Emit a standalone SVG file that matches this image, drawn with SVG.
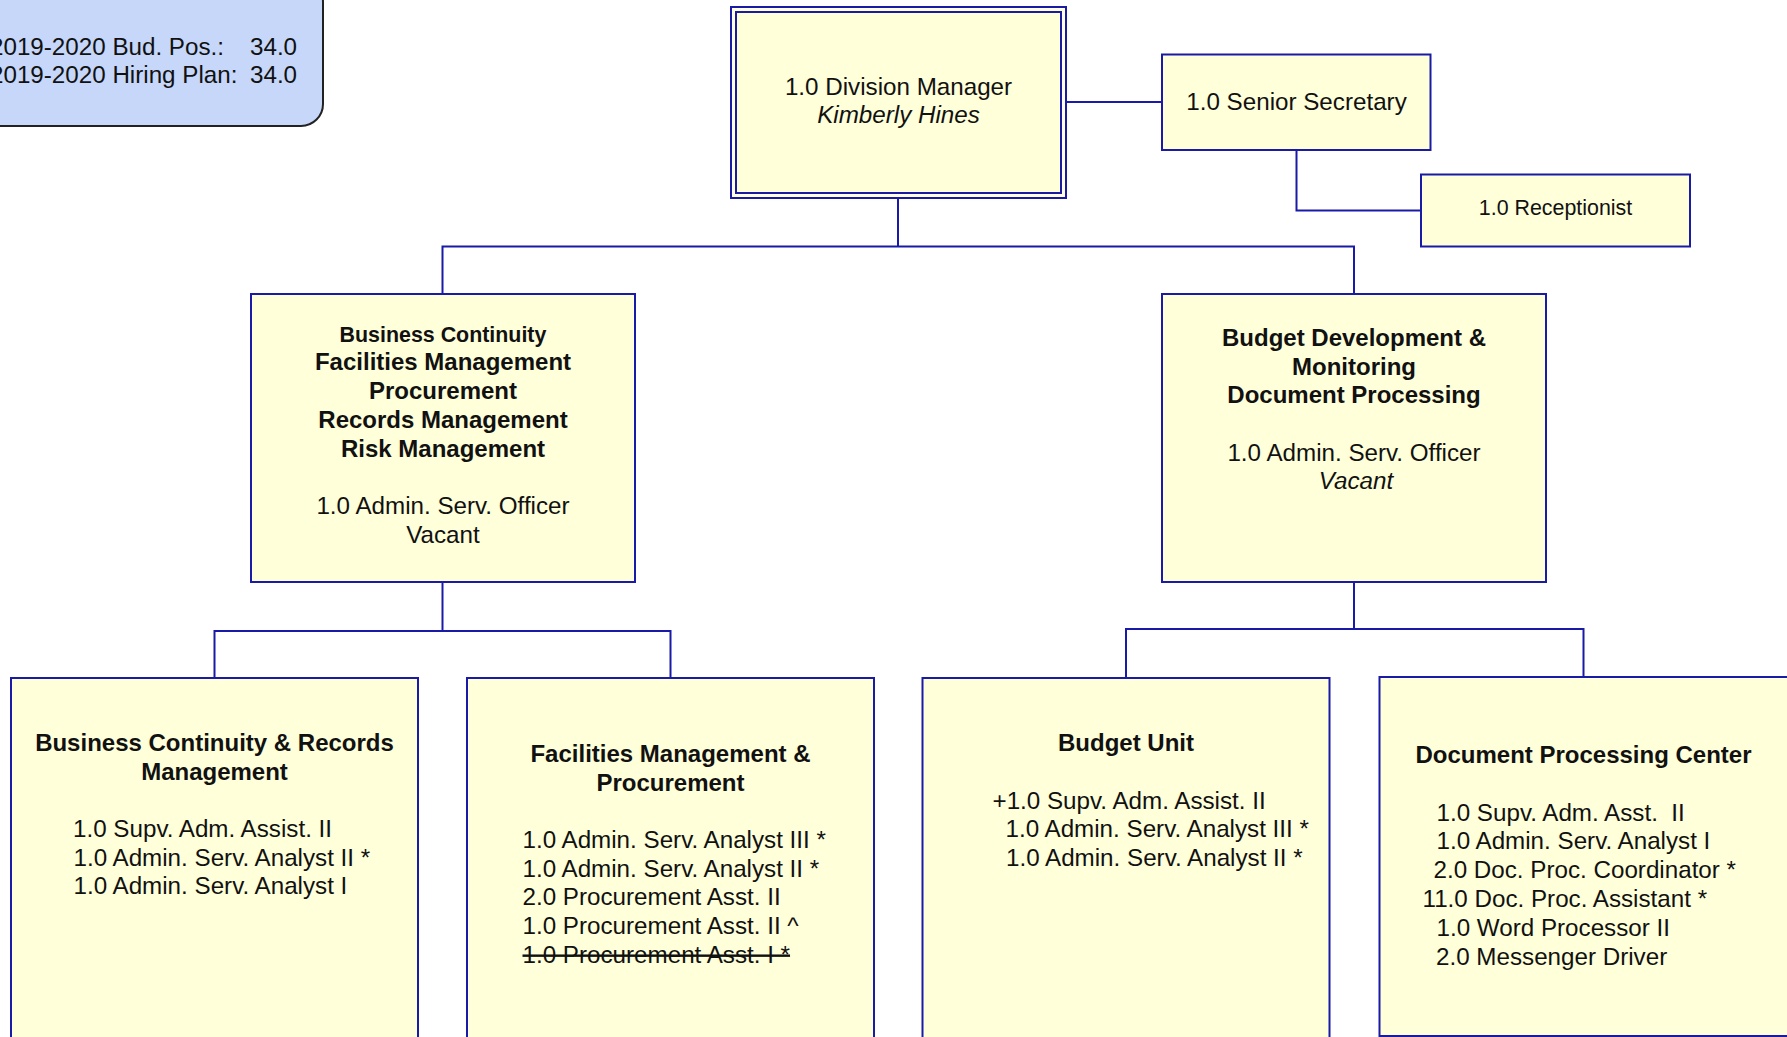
<svg xmlns="http://www.w3.org/2000/svg" width="1787" height="1037" viewBox="0 0 1787 1037">
<style>
  text { font-family: "Liberation Sans", Arial, sans-serif; font-size: 24.2px; fill: #111; }
  .c { text-anchor: middle; }
  .b { font-weight: bold; font-size: 24px; }
  .i { font-style: italic; }
  .sm { font-size: 21.4px; }
  .node { fill: #FFFFDA; stroke: #1A1AA8; stroke-width: 2; }
  .info { fill: #C6D7FA; stroke: #222; stroke-width: 2; }
  .conn { fill: none; stroke: #1A1AA8; stroke-width: 2; }
  .strike { text-decoration: line-through; }
</style>
<rect width="1787" height="1037" fill="#FFFFFF"/>

<g id="connectors">
  <path class="conn" d="M1066 102 H1162"/>
  <path class="conn" d="M1296.5 150 V210.5 H1421"/>
  <path class="conn" d="M898 198 V246.5"/>
  <path class="conn" d="M442.5 294 V246.5 H1354 V294"/>
  <path class="conn" d="M442.5 582 V631"/>
  <path class="conn" d="M214.5 678 V631 H670.5 V678"/>
  <path class="conn" d="M1354 582 V629"/>
  <path class="conn" d="M1126 678 V629 H1583.5 V677"/>
</g>

<g id="info-box">
  <rect class="info" x="-20" y="-20" width="343" height="146" rx="22"/>
  <text x="-10" y="55">2019-2020 Bud. Pos.:</text>
  <text x="250" y="55">34.0</text>
  <text x="-10" y="82.5">2019-2020 Hiring Plan:</text>
  <text x="250" y="82.5">34.0</text>
</g>

<g id="division-manager">
  <rect class="node" x="731" y="7" width="335" height="191"/>
  <rect class="node" x="736" y="12" width="325" height="181"/>
  <text class="c" x="898.5" y="95">1.0 Division Manager</text>
  <text class="c i" x="898.5" y="123">Kimberly Hines</text>
</g>

<g id="senior-secretary">
  <rect class="node" x="1162" y="54.5" width="268.5" height="95.5"/>
  <text class="c" x="1296.5" y="109.5">1.0 Senior Secretary</text>
</g>

<g id="receptionist">
  <rect class="node" x="1421" y="174.5" width="269" height="72"/>
  <text class="c sm" x="1555.5" y="214.5">1.0 Receptionist</text>
</g>

<g id="admin-officer-left">
  <rect class="node" x="251" y="294" width="384" height="288"/>
  <text class="c b sm" x="443" y="342">Business Continuity</text>
  <text class="c b" x="443" y="370">Facilities Management</text>
  <text class="c b" x="443" y="399">Procurement</text>
  <text class="c b" x="443" y="427.5">Records Management</text>
  <text class="c b" x="443" y="456.5">Risk Management</text>
  <text class="c" x="443" y="514">1.0 Admin. Serv. Officer</text>
  <text class="c" x="443" y="543">Vacant</text>
</g>

<g id="admin-officer-right">
  <rect class="node" x="1162" y="294" width="384" height="288"/>
  <text class="c b" x="1354" y="345.5">Budget Development &amp;</text>
  <text class="c b" x="1354" y="374.5">Monitoring</text>
  <text class="c b" x="1354" y="403">Document Processing</text>
  <text class="c" x="1354" y="460.5">1.0 Admin. Serv. Officer</text>
  <text class="c i" x="1356" y="489">Vacant</text>
</g>

<g id="business-continuity-records">
  <rect class="node" x="11" y="678" width="407" height="380"/>
  <text class="c b" x="214.5" y="751">Business Continuity &amp; Records</text>
  <text class="c b" x="214.5" y="779.5">Management</text>
  <text x="73" y="836.7">1.0 Supv. Adm. Assist. II</text>
  <text x="73.5" y="865.5">1.0 Admin. Serv. Analyst II *</text>
  <text x="73.5" y="894.3">1.0 Admin. Serv. Analyst I</text>
</g>

<g id="facilities-procurement">
  <rect class="node" x="467" y="678" width="407" height="380"/>
  <text class="c b" x="670.5" y="761.7">Facilities Management &amp;</text>
  <text class="c b" x="670.5" y="790.5">Procurement</text>
  <text x="522.5" y="847.5">1.0 Admin. Serv. Analyst III *</text>
  <text x="522.5" y="876.5">1.0 Admin. Serv. Analyst II *</text>
  <text x="522.5" y="905.3">2.0 Procurement Asst. II</text>
  <text x="522.5" y="934">1.0 Procurement Asst. II ^</text>
  <text class="strike" x="522.5" y="963">1.0 Procurement Asst. I *</text>
</g>

<g id="budget-unit">
  <rect class="node" x="922.5" y="678" width="407" height="380"/>
  <text class="c b" x="1126" y="751">Budget Unit</text>
  <text x="992.5" y="808.5">+1.0 Supv. Adm. Assist. II</text>
  <text x="1005.5" y="837.3">1.0 Admin. Serv. Analyst III *</text>
  <text x="1006" y="866">1.0 Admin. Serv. Analyst II *</text>
</g>

<g id="document-processing-center">
  <rect class="node" x="1379.5" y="677" width="412" height="359"/>
  <text class="c b" x="1583.5" y="762.7">Document Processing Center</text>
  <text x="1436.5" y="820.5" xml:space="preserve">1.0 Supv. Adm. Asst.  II</text>
  <text x="1436.5" y="849.3">1.0 Admin. Serv. Analyst I</text>
  <text x="1433.5" y="878">2.0 Doc. Proc. Coordinator *</text>
  <text x="1422.5" y="907">11.0 Doc. Proc. Assistant *</text>
  <text x="1436.5" y="936">1.0 Word Processor II</text>
  <text x="1436" y="964.7">2.0 Messenger Driver</text>
</g>
</svg>
